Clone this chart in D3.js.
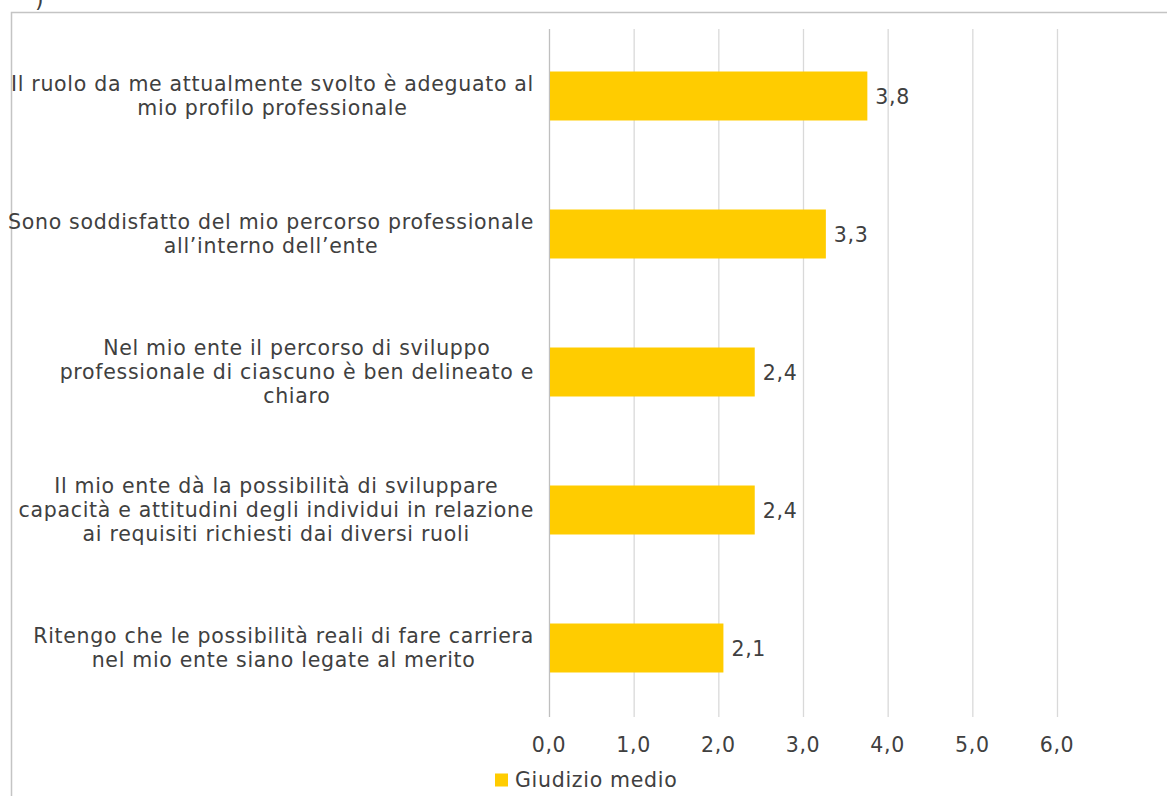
<!DOCTYPE html>
<html>
<head>
<meta charset="utf-8">
<script src="https://cdn.jsdelivr.net/npm/d3@7"></script>
<style>
  body { margin: 0; background: #fff; }
  svg { display: block; font-family: Verdana, "DejaVu Sans", sans-serif; }
  svg text { letter-spacing: 0.7px; }
</style>
</head>
<body>
<svg id="chart" width="1167" height="796"></svg>
<script>
// Data
const categories = [
    ['Il ruolo da me attualmente svolto è adeguato al', 'mio profilo professionale'],
    ['Sono soddisfatto del mio percorso professionale', 'all\u2019interno dell\u2019ente'],
    ['Nel mio ente il percorso di sviluppo', 'professionale di ciascuno è ben delineato e', 'chiaro'],
    ['Il mio ente dà la possibilità di sviluppare', 'capacità e attitudini degli individui in relazione', 'ai requisiti richiesti dai diversi ruoli'],
    ['Ritengo che le possibilità reali di fare carriera', 'nel mio ente siano legate al merito']
];
const values = [3.76, 3.27, 2.43, 2.43, 2.06];
const ticks = [0, 1, 2, 3, 4, 5, 6];
const seriesName = 'Giudizio medio';

const textColor = '#404040';
const barColor = '#FFCC00';
const fontSize = 20.5;

const svg = d3.select('#chart');
const it = d3.formatLocale({ decimal: ',', thousands: '.', grouping: [3], currency: ['', '€'] });
const fmt = it.format('.1f');

// outer frame (chart area border, partially cropped)
svg.append('path')
    .attr('d', 'M11.5,796 L11.5,12.5 L1167,12.5')
    .attr('fill', 'none')
    .attr('stroke', '#c4c4c4')
    .attr('stroke-width', 1.5);

// cut-off title glyph at the top edge
svg.append('text')
    .attr('x', 35)
    .attr('y', 7)
    .style('font-size', '22px')
    .style('fill', textColor)
    .text(')');

const x = d3.scaleLinear().domain([0, 6]).range([549, 1057]);
const y = d3.scaleBand()
    .domain(d3.range(categories.length))
    .range([27, 717])
    .paddingInner(0.645)
    .paddingOuter(0.3225);

// gridlines
svg.append('g')
    .selectAll('line')
    .data(ticks)
    .join('line')
    .attr('x1', d => x(d) + 0.5)
    .attr('x2', d => x(d) + 0.5)
    .attr('y1', 29)
    .attr('y2', 717)
    .attr('stroke', d => d === 0 ? '#bfbfbf' : '#d9d9d9')
    .attr('stroke-width', 1.3);

// bars
svg.append('g')
    .selectAll('rect')
    .data(values)
    .join('rect')
    .attr('x', x(0) + 1)
    .attr('y', (d, i) => y(i))
    .attr('width', d => x(d) - x(0) - 1)
    .attr('height', y.bandwidth())
    .attr('fill', barColor);

// value labels
svg.append('g')
    .selectAll('text')
    .data(values)
    .join('text')
    .attr('x', d => x(d) + 8)
    .attr('y', (d, i) => y(i) + y.bandwidth() / 2 + 2)
    .attr('dominant-baseline', 'middle')
    .style('font-size', fontSize + 'px')
    .style('fill', textColor)
    .text(d => fmt(d));

// tick labels
svg.append('g')
    .selectAll('text')
    .data(ticks)
    .join('text')
    .attr('x', d => x(d))
    .attr('y', 746)
    .attr('text-anchor', 'middle')
    .attr('dominant-baseline', 'middle')
    .style('font-size', fontSize + 'px')
    .style('fill', textColor)
    .text(d => fmt(d));

// category labels: block right-aligned at the axis gap, lines centred inside the block
const lineH = 24;
const labelRight = 534;
categories.forEach((lines, i) => {
    const g = svg.append('g');
    const cy = y(i) + y.bandwidth() / 2 + 1;
    const texts = g.selectAll('text')
        .data(lines)
        .join('text')
        .attr('y', (d, j) => cy + (j - (lines.length - 1) / 2) * lineH)
        .attr('text-anchor', 'middle')
        .attr('dominant-baseline', 'middle')
        .style('font-size', fontSize + 'px')
        .style('fill', textColor)
        .text(d => d);
    let maxW = 0;
    texts.each(function () { maxW = Math.max(maxW, this.getComputedTextLength()); });
    texts.attr('x', labelRight - maxW / 2);
});

// legend
const legend = svg.append('g').attr('transform', 'translate(495, 780)');
legend.append('rect')
    .attr('x', 0)
    .attr('y', -6.5)
    .attr('width', 13)
    .attr('height', 13)
    .attr('fill', barColor);
legend.append('text')
    .attr('x', 20)
    .attr('y', 1)
    .attr('dominant-baseline', 'middle')
    .style('font-size', fontSize + 'px')
    .style('fill', textColor)
    .text(seriesName);
</script>
</body>
</html>
